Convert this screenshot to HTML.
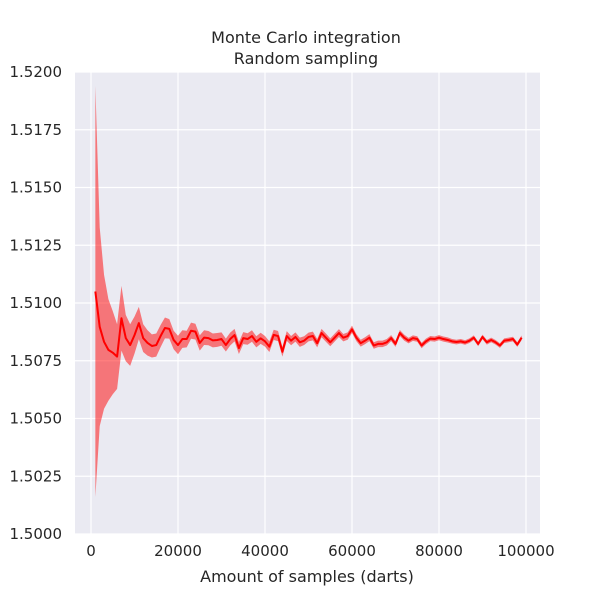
<!DOCTYPE html>
<html><head><meta charset="utf-8"><style>
body{margin:0;background:#fff;font-family:"DejaVu Sans","Liberation Sans",sans-serif;}
</style></head><body>
<svg id="chart" width="600" height="600" xmlns="http://www.w3.org/2000/svg" font-family="DejaVu Sans, Liberation Sans, sans-serif"></svg>
<script>
const samples=[];for(let i=1;i<=99;i++)samples.push(i*1000);
const meanValues=[1.5105,1.50897,1.50832,1.50797,1.50785,1.50768,1.50934,1.50848,1.50818,1.50861,1.50913,1.50848,1.50827,1.50814,1.50818,1.50857,1.50892,1.50888,1.5084,1.50818,1.50844,1.50844,1.5088,1.50876,1.50827,1.5085,1.50848,1.50838,1.5084,1.50844,1.50818,1.50844,1.50861,1.50805,1.50848,1.50844,1.50857,1.50832,1.50847,1.50834,1.50811,1.50862,1.50857,1.50789,1.50857,1.50837,1.50853,1.5083,1.50837,1.50853,1.50857,1.50826,1.5087,1.5085,1.5083,1.5085,1.5087,1.5085,1.50857,1.50886,1.5085,1.50826,1.50837,1.5085,1.50816,1.50823,1.50823,1.5083,1.50848,1.50823,1.5087,1.5085,1.50837,1.50848,1.50844,1.50816,1.50834,1.50846,1.50844,1.5085,1.50844,1.5084,1.50834,1.50831,1.50834,1.50829,1.50837,1.5085,1.50823,1.50853,1.5083,1.5084,1.5083,1.50816,1.50837,1.5084,1.50844,1.5082,1.5085];
const halfWidths=[0.0089,0.0043,0.0029,0.0022,0.0018,0.0014,0.0014,0.001,0.0009,0.0008,0.0007,0.0006,0.00055,0.0005,0.0005,0.00048,0.00045,0.00042,0.0004,0.0004,0.00038,0.00036,0.00035,0.00034,0.00033,0.00032,0.00031,0.0003,0.0003,0.00029,0.00028,0.00028,0.00027,0.00026,0.00026,0.00025,0.00025,0.00024,0.00024,0.00023,0.00023,0.00022,0.00022,0.00021,0.00021,0.0002,0.0002,0.0002,0.00019,0.00019,0.00019,0.00018,0.00018,0.00018,0.00017,0.00017,0.00017,0.00016,0.00016,0.00016,0.00015,0.00015,0.00015,0.00015,0.00014,0.00014,0.00014,0.00014,0.00013,0.00013,0.00013,0.00013,0.00012,0.00012,0.00012,0.00012,0.00012,0.00011,0.00011,0.00011,0.00011,0.00011,0.0001,0.0001,0.0001,0.0001,0.0001,0.0001,0.0001,0.0001,0.0001,0.0001,0.0001,0.0001,0.0001,0.0001,0.0001,0.0001,0.0001];
const yTicks=[1.5,1.5025,1.505,1.5075,1.51,1.5125,1.515,1.5175,1.52];
const xTicks=[0,20000,40000,60000,80000,100000];
const NS="http://www.w3.org/2000/svg";
const svg=document.getElementById('chart');
const L=75,R=540,T=72,B=534;
const xs=v=>91+(v/100000)*435;
const ys=v=>B-(v-1.5)/0.02*(B-T);
function mk(tag,attrs,parent){const e=document.createElementNS(NS,tag);for(const k in attrs)e.setAttribute(k,attrs[k]);(parent||svg).appendChild(e);return e;}
const bg=mk('rect',{x:L,y:T,width:R-L,height:B-T,fill:'#eaeaf2'});


yTicks.forEach(t=>{
  const g=mk('line',{x1:L,x2:R,y1:ys(t),y2:ys(t),stroke:'#fff','stroke-width':1.2});
  
  
  const tx=mk('text',{x:L-13,y:ys(t)+5,'text-anchor':'end','font-size':15,fill:'#262626'});
  tx.textContent=t.toFixed(4);
  
  
});
xTicks.forEach(t=>{
  const g=mk('line',{x1:xs(t),x2:xs(t),y1:T,y2:B,stroke:'#fff','stroke-width':1.2});
  
  
  const tx=mk('text',{x:xs(t),y:B+22,'text-anchor':'middle','font-size':15,fill:'#262626'});
  tx.textContent=t;
  
  
});
let up=samples.map((s,i)=>xs(s)+','+ys(meanValues[i]+halfWidths[i]));
let dn=samples.map((s,i)=>xs(s)+','+ys(meanValues[i]-halfWidths[i])).reverse();
const band=mk('polygon',{points:up.concat(dn).join(' '),fill:'#ff0000','fill-opacity':0.5});


const line=mk('polyline',{points:samples.map((s,i)=>xs(s)+','+ys(meanValues[i])).join(' '),fill:'none',stroke:'#ff0000','stroke-width':2,'stroke-linejoin':'round'});


const t1=mk('text',{x:306,y:43,'text-anchor':'middle','font-size':16,fill:'#262626'});t1.textContent='Monte Carlo integration';


const t2=mk('text',{x:306,y:64,'text-anchor':'middle','font-size':16,fill:'#262626'});t2.textContent='Random sampling';


const xl=mk('text',{x:307,y:582,'text-anchor':'middle','font-size':16,fill:'#262626'});xl.textContent='Amount of samples (darts)';


</script>
</body></html>
